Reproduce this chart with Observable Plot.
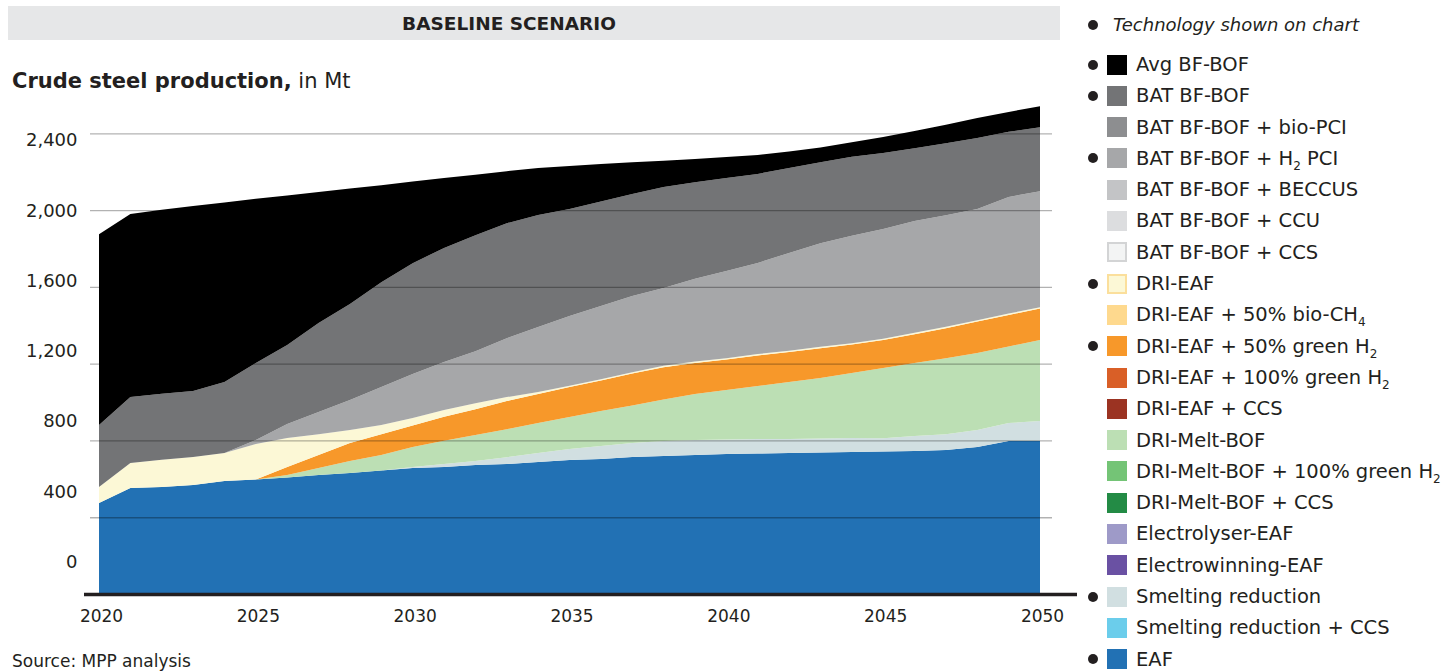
<!DOCTYPE html>
<html>
<head>
<meta charset="utf-8">
<script src="https://cdn.jsdelivr.net/npm/d3@7"></script>
<script src="https://cdn.jsdelivr.net/npm/@observablehq/plot@0.6"></script>
<style>
  html, body { margin: 0; padding: 0; background: #fff; }
  #wrap { position: relative; width: 1454px; height: 672px; overflow: hidden; font-family: "DejaVu Sans", sans-serif; color: #231f20; }
  #band { position: absolute; left: 8px; top: 6px; width: 1052px; height: 34px; background: #e6e7e8; }
  #bandText { position: absolute; left: 0; top: 13px; width: 1018px; text-align: center; font-weight: bold; font-size: 18.5px; }
  #title { position: absolute; left: 12px; top: 69px; font-size: 21px; line-height: 24px; white-space: nowrap; }
  #chart { position: absolute; left: 0; top: 95px; }
  #source { position: absolute; left: 12px; top: 651px; font-size: 17px; line-height: 20px; white-space: nowrap; }
  .bullet { position: absolute; width: 10px; height: 10px; border-radius: 50%; background: #231f20; }
  .sw { position: absolute; width: 20px; height: 20px; box-sizing: border-box; }
  .lt { position: absolute; font-size: 19.5px; white-space: nowrap; line-height: 18px; }
  .lt sub { font-size: 12px; vertical-align: -5px; line-height: 0; }
</style>
</head>
<body>
<div id="wrap">
  <div id="band"></div>
  <div id="bandText">BASELINE SCENARIO</div>
  <div id="title"><b>Crude steel production,</b> in Mt</div>
  <div id="chart"></div>
  <div id="source">Source: MPP analysis</div>
  <div id="legend"></div>
</div>
<script>
// ---------------- data (Mt) ----------------
const years = [2020,2021,2022,2023,2024,2025,2026,2027,2028,2029,2030,2031,2032,2033,2034,2035,2036,2037,2038,2039,2040,2041,2042,2043,2044,2045,2046,2047,2048,2049,2050];

const eaf = [474,552,558,568,589,597,607,620,630,643,657,662,672,677,688,698,703,714,719,724,729,732,735,737,740,742,745,750,766,797,797];
const smeltingReduction = [0,0,0,0,0,0,0,0,0,0,5,16,21,36,47,57,68,73,78,78,76,76,73,73,73,70,78,83,89,94,104];
const driMeltBof = [0,0,0,0,0,0,13,36,63,81,104,120,135,146,156,167,182,195,216,240,258,276,297,315,339,365,380,396,401,399,422];
const driEaf50GreenH2 = [0,0,0,0,0,0,42,68,94,109,112,125,135,146,151,156,159,167,169,162,159,159,156,156,148,146,151,156,164,164,164];
const driEaf = [83,130,141,146,146,185,151,109,68,47,39,36,31,21,10,7,7,7,7,7,7,7,7,7,7,7,7,7,7,7,7];
const batBfBofH2Pci = [0,0,0,0,0,21,73,115,156,198,229,250,271,307,339,363,381,397,405,431,454,475,509,540,559,572,582,582,579,608,605];
const batBfBof = [323,344,344,344,370,401,412,464,500,547,578,594,604,599,584,558,545,531,526,503,485,464,443,422,412,396,380,375,370,339,333];
const avgBfBof = [995,954,959,964,935,855,779,683,602,505,425,365,315,271,245,224,195,165,138,122,109,99,86,76,76,83,89,96,104,104,109];

// stacking order, bottom to top
const chartTechs = ["EAF","Smelting reduction","DRI-Melt-BOF","DRI-EAF + 50% green H2","DRI-EAF","BAT BF-BOF + H2 PCI","BAT BF-BOF","Avg BF-BOF"];
const chartSeries = [eaf, smeltingReduction, driMeltBof, driEaf50GreenH2, driEaf, batBfBofH2Pci, batBfBof, avgBfBof];
const chartColors = ["#2271b4","#d1dfe1","#bcdfb4","#f7982a","#fcf8d6","#a6a7a9","#737476","#000000"];

const xTicks = [2020,2025,2030,2035,2040,2045,2050];
const yTicks = [0,400,800,1200,1600,2000,2400];

// legend
const legendLabels = ["Avg BF-BOF","BAT BF-BOF","BAT BF-BOF + bio-PCI","BAT BF-BOF + H<sub>2</sub> PCI","BAT BF-BOF + BECCUS","BAT BF-BOF + CCU","BAT BF-BOF + CCS","DRI-EAF","DRI-EAF + 50% bio-CH<sub>4</sub>","DRI-EAF + 50% green H<sub>2</sub>","DRI-EAF + 100% green H<sub>2</sub>","DRI-EAF + CCS","DRI-Melt-BOF","DRI-Melt-BOF + 100% green H<sub>2</sub>","DRI-Melt-BOF + CCS","Electrolyser-EAF","Electrowinning-EAF","Smelting reduction","Smelting reduction + CCS","EAF"];
const legendColors = ["#000000","#737476","#8d8e90","#a6a7a9","#c3c4c6","#dcdddf","#f3f4f4","#fcf8d6","#fed98e","#f7982a","#d95f27","#9b3322","#bcdfb4","#74c476","#238b45","#9e9ac8","#6a51a3","#d1dfe1","#6bcdeb","#2271b4"];
const legendBorders = [null,null,null,null,null,null,"#d3d4d5","#fbdf9c",null,null,null,null,null,null,null,null,null,null,null,null];
const legendShown = [true,true,false,true,false,false,false,true,false,true,false,false,false,false,false,false,false,true,false,true];

// ---------------- build ----------------
const rows = [];
chartTechs.forEach((tech, i) => {
  years.forEach((year, j) => rows.push({year, tech, value: chartSeries[i][j]}));
});

// the tick labels in the source sit off their gridlines; map each label to where it is printed
const labelPos = d => 168.3 + 0.9155 * d;

const chart = Plot.plot({
  width: 1080,
  height: 577,
  marginTop: 0,
  marginBottom: 78,
  marginLeft: 99,
  marginRight: 40,
  x: {domain: [2020, 2050], label: null},
  y: {domain: [0, 2600], axis: null},
  color: {domain: chartTechs, range: chartColors},
  style: {fontFamily: "DejaVu Sans, sans-serif", fontSize: "17px", color: "#231f20", background: "transparent", overflow: "visible"},
  marks: [
    Plot.areaY(rows, {x: "year", y: "value", fill: "tech", order: chartTechs}),
    Plot.ruleY(yTicks.filter(d => d > 0), {stroke: "#000", strokeOpacity: 0.3, strokeWidth: 1.3, insetLeft: -9, insetRight: -12}),
    Plot.ruleY([0], {stroke: "#231f20", strokeWidth: 3.5, insetLeft: -15, insetRight: -37}),
    Plot.axisX({ticks: xTicks, tickFormat: d => String(d), tickSize: 0, tickPadding: 15, fontSize: 17, label: null, dx: 2}),
    Plot.text(yTicks, {frameAnchor: "left", y: labelPos, text: d => d3.format(",")(d), textAnchor: "end", dx: -22, fontSize: 18, fill: "#231f20"})
  ]
});
document.getElementById("chart").appendChild(chart);

// legend (HTML)
const legend = document.getElementById("legend");
const add = (html) => { const el = document.createElement("div"); el.innerHTML = html; legend.appendChild(el.firstChild); };
add(`<div class="bullet" style="left:1088px;top:20px"></div>`);
add(`<div class="lt" style="left:1113px;top:16px;font-style:italic;font-size:18px">Technology shown on chart</div>`);
legendLabels.forEach((lab, k) => {
  const c = 64.5 + 31.3 * k;
  if (legendShown[k]) add(`<div class="bullet" style="left:1088px;top:${c - 5}px"></div>`);
  const border = legendBorders[k] ? `border:2px solid ${legendBorders[k]};` : "";
  add(`<div class="sw" style="left:1107px;top:${c - 10}px;background:${legendColors[k]};${border}"></div>`);
  add(`<div class="lt" style="left:1136px;top:${c - 8.6}px">${lab}</div>`);
});
</script>
</body>
</html>
